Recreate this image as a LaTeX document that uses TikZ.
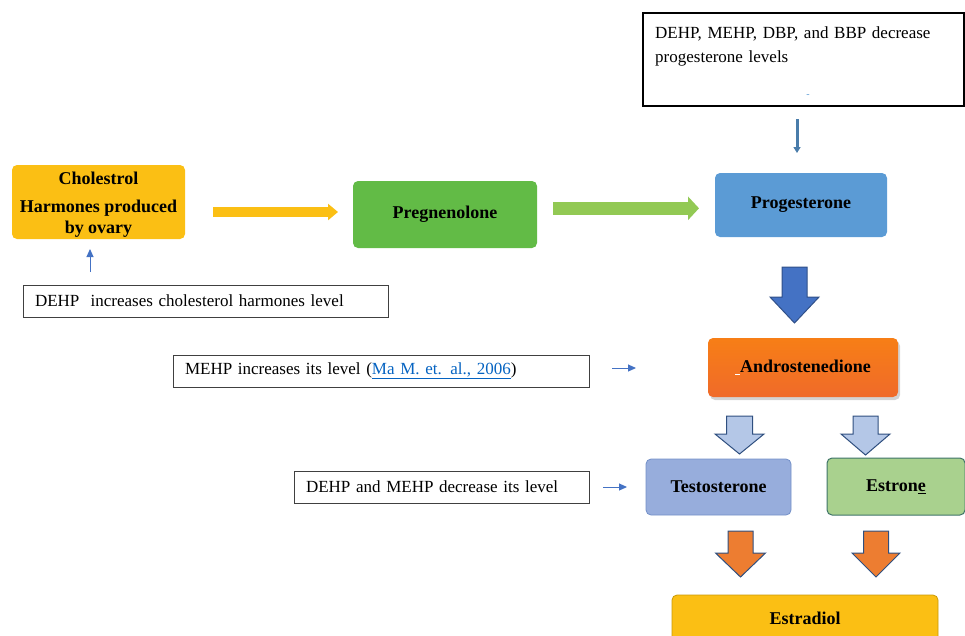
\documentclass[tikz,border=0pt]{standalone}
\usepackage{fontspec}
\setmainfont{Liberation Serif}
\usetikzlibrary{arrows.meta,shadows}

\definecolor{gold}{HTML}{FBBF14}
\definecolor{golddark}{HTML}{C99A06}
\definecolor{leafgreen}{HTML}{62BB46}
\definecolor{limegreen}{HTML}{92C954}
\definecolor{skyblue}{HTML}{5B9BD5}
\definecolor{royal}{HTML}{4472C4}
\definecolor{navyline}{HTML}{2F4F7F}
\definecolor{paleblue}{HTML}{B4C7E7}
\definecolor{lavblue}{HTML}{97ADDC}
\definecolor{lavline}{HTML}{7390C8}
\definecolor{sage}{HTML}{A9D18E}
\definecolor{sageline}{HTML}{3F7468}
\definecolor{tangerine}{HTML}{ED7D31}
\definecolor{linkblue}{HTML}{0563C1}

\tikzset{
  stage/.style={rounded corners=5pt, align=center, inner sep=0pt,
    font=\bfseries\fontsize{18}{21}\selectfont},
  note/.style={draw=black!75, line width=0.9pt, align=left, inner xsep=12pt,
    inner ysep=0pt, minimum height=32pt, font=\fontsize{17}{22}\selectfont},
  thinarrow/.style={draw=royal, line width=1pt, -{Triangle[length=8pt,width=7pt]}},
  blockarrow/.style={line width=1pt, line join=miter}
}

% down block arrow: centre x, top, head base, tip, half shaft, half head
\newcommand{\blockdown}[7]{%
  \draw[blockarrow,#7] (#1-#5,#2) -- (#1+#5,#2) -- (#1+#5,#3) -- (#1+#6,#3)
    -- (#1,#4) -- (#1-#6,#3) -- (#1-#5,#3) -- cycle;}

\begin{document}
\begin{tikzpicture}[x=1pt,y=-1pt]
\useasboundingbox (0,0) rectangle (965,635);

% main pathway
\node[stage, fill=gold, minimum width=173pt, minimum height=74pt] (chol) at (98.5,202)
  {\\[-3pt]Cholestrol\\[7pt] Harmones produced\\ by ovary};
\node[stage, fill=leafgreen, minimum width=184pt, minimum height=67pt] (preg) at (445,214.5)
  {Pregnenolone};
\node[stage, fill=skyblue, minimum width=172pt, minimum height=64pt] (prog) at (801,205)
  {Progesterone};
\node[stage, top color=orange!55!tangerine, bottom color=tangerine!85!red,
  drop shadow={shadow xshift=2pt, shadow yshift=-3pt, opacity=0.35},
  minimum width=190pt, minimum height=59pt] (andro) at (803,367.5)
  {{\color{white}\rule[-3pt]{5pt}{0.8pt}}Androstenedione};
\node[stage, fill=lavblue, draw=lavline, line width=0.8pt,
  minimum width=145pt, minimum height=56pt] (testo) at (718.5,487) {Testosterone};
\node[stage, fill=sage, draw=sageline, line width=1pt,
  minimum width=138pt, minimum height=57pt] (estrone) at (896,486.5) {Estron\underline{e}};
\node[stage, fill=gold, draw=golddark, line width=0.8pt,
  minimum width=266pt, minimum height=50pt] (estradiol) at (805,620) {\raisebox{3pt}{Estradiol}};

% notes
\node[note, text width=341pt] (dehpinc) at (205.5,301)
  {DEHP\ \ increases cholesterol harmones level};
\node[note, text width=392pt] (mehp) at (381,371)
  {MEHP increases its level ({\color{linkblue}\underline{Ma M. et. al., 2006}})};
\node[note, text width=271pt] (dehpmehp) at (441.5,487)
  {DEHP and MEHP decrease\ its level};
\node[draw=black, line width=1.5pt, minimum width=321pt, minimum height=93pt,
  inner sep=0pt] (topnote) at (803.5,59.5) {};
\node[anchor=north west, align=left, inner sep=0pt, text width=300pt,
  font=\fontsize{17}{24}\selectfont] (toptext) at (655,27)
  {DEHP,\ MEHP,\ DBP, and BBP\ decrease\\ progesterone levels};
\node[font=\fontsize{10}{10}\selectfont, text=skyblue, inner sep=0pt] (dash) at (808,96) {-};

% pathway arrows
\coordinate (y1) at (213,212);
\coordinate (y2) at (338,212);
\draw[gold, line width=9.5pt, -{Triangle[length=10pt,width=16pt]}] (y1) -- (y2);
\coordinate (g1) at (553,208.3);
\coordinate (g2) at (699,208.3);
\draw[limegreen, line width=13.3pt, -{Triangle[length=11pt,width=23pt]}] (g1) -- (g2);

\blockdown{794.5}{267}{297}{323}{12.5}{24.5}{fill=royal, draw=royal!70!black}
\blockdown{739.5}{416}{434}{454}{13}{24.5}{fill=paleblue, draw=navyline}
\blockdown{865.5}{416}{434}{455}{12.5}{24.5}{fill=paleblue, draw=navyline}
\blockdown{740.5}{531}{553}{577}{12.5}{25}{fill=tangerine, draw=navyline}
\blockdown{876}{531}{553}{577}{12.5}{24}{fill=tangerine, draw=navyline}

% effect arrows
\coordinate (u1) at (90,272);
\coordinate (u2) at (90,249);
\draw[thinarrow] (u1) -- (u2);
\coordinate (d1) at (797,119);
\coordinate (d2) at (797,153);
\draw[draw=skyblue!80!black, line width=3pt, -{Triangle[length=6pt,width=7pt]}] (d1) -- (d2);
\coordinate (m1) at (612,368);
\coordinate (m2) at (636,368);
\draw[thinarrow] (m1) -- (m2);
\coordinate (t1) at (603,487);
\coordinate (t2) at (627,487);
\draw[thinarrow] (t1) -- (t2);

\end{tikzpicture}
\end{document}
